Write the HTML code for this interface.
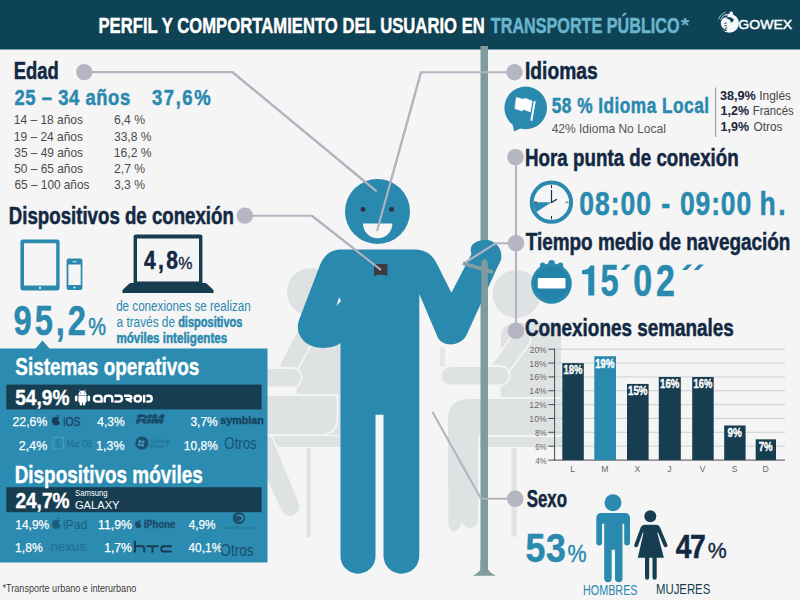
<!DOCTYPE html>
<html lang="es">
<head>
<meta charset="utf-8">
<title>Perfil y comportamiento del usuario en transporte público</title>
<style>
html,body{margin:0;padding:0;background:#f5f5f5;}
body{width:800px;height:600px;overflow:hidden;font-family:"Liberation Sans",sans-serif;}
svg{display:block;}
text{font-family:"Liberation Sans",sans-serif;}
.b{font-weight:bold;}
.navy{fill:#132842;}
.teal{fill:#2a89ae;}
.w{fill:#ffffff;}
.g{fill:#4a4a4a;}
.b.navy{stroke:#132842;stroke-width:0.5px;}
.b.teal{stroke:#2a89ae;stroke-width:0.5px;}
.b.w{stroke:#ffffff;stroke-width:0.4px;}
</style>
</head>
<body>
<svg width="800" height="600" viewBox="0 0 800 600">
<rect x="0" y="0" width="800" height="600" fill="#f5f5f5"/>

<!-- ===== background seated figures ===== -->
<g id="bgfigs" fill="#dfe2e3" stroke="#f3f4f4" stroke-width="1.800" stroke-linejoin="round">
  <!-- left figure -->
  <rect x="306.300" y="448" width="4.500" height="89" fill="#e1e2e2" stroke="none"/>
  <circle cx="311" cy="292" r="24" stroke="none"/>
  <path d="M296,436 L296,336 Q296,322 310,322 L345,322 L345,436 Z"/>
  <path d="M262,436 L345,436 L345,447 L262,447 Z" stroke="none"/>
  <path d="M262,395 L337.500,395 L337.500,417 Q337.500,435 319.500,435 L262,435 Z"/>
  <path d="M262,436 L272,436 L299.500,503 A10,10 0 0 1 280.500,510 L262,470 Z"/>
  <path d="M296.500,332 A9.500,9.500 0 0 1 313.500,340 L297.500,370.500 A9.500,9.500 0 0 1 280.500,362 Z"/>
  <path d="M262,368 L292,368 A9.700,9.700 0 0 1 292,387.400 L262,387.400 Z"/>
  <!-- right figure -->
  <rect x="511.500" y="448" width="5.200" height="88.500" fill="#e1e2e2" stroke="none"/>
  <circle cx="516.500" cy="294" r="24" stroke="none"/>
  <path d="M500,436 L500,338 Q500,322 516,322 L562,322 L562,436 Z"/>
  <path d="M476,436 L562,436 L562,447 L476,447 Z" stroke="none"/>
  <path d="M447,420 Q447,398 469,398 L562,398 L562,436 L479,436 L479,520 A9,9 0 0 1 461.500,523 A7,9 0 0 1 447.500,523 Z"/>
  <path d="M513.500,334 A9.500,9.500 0 0 1 530,343 L506,376 A9.500,9.500 0 0 1 489.500,367 Z"/>
  <path d="M450.500,366 L500,366 A9.700,9.700 0 0 1 500,385.400 L450.500,385.400 A9.700,9.700 0 0 1 450.500,366 Z"/>
  <rect x="440" y="347" width="5" height="20" rx="1" fill="#e6e8e8" stroke="none"/>
</g>

<!-- ===== header ===== -->
<rect x="0" y="0" width="800" height="49.500" fill="#0e4356"/>

<!-- ===== pole ===== -->
<g id="pole">
  <rect x="480.500" y="46" width="7.500" height="524" fill="#7f9b9e"/>
  <path d="M480.500,560 L488,560 L488,569.300 Q490,573 495.800,575.700 L472.800,575.700 Q478.500,573 480.500,569.300 Z" fill="#7f9b9e"/>
</g>

<!-- ===== connectors ===== -->
<g id="connectors" fill="none" stroke="#b5b3c1" stroke-width="2.100">
  <path d="M84.500,72.100 L232.400,72.100 L376.600,191.400"/>
  <path d="M514,72.300 L421,72.300 L377,231"/>
  <path d="M244,215.800 L312,215.800 L381,270"/>
  <path d="M516,157 L516,331"/>
  <path d="M516,243.200 L496,243.200 L466,262"/>
  <path d="M515,498.800 L481,498.800 L432.500,412"/>
</g>

<!-- ===== main figure ===== -->
<g id="person" fill="#2a89ae">
  <circle cx="377.500" cy="211.500" r="32.500"/>
  <path d="M341,249.500 L414,249.500 C427,249.500 433,256 437,264 L451.400,292.800 L471.500,254 C468,245 476,239.500 487,240 C497,241 503,250 501,260 L497.500,267 L467,334 C462,346 444,348 438,338 L419.300,294 L419.300,555.800 A17.900,17.900 0 0 1 383.500,555.800 L383.500,414.700 L375.500,414.700 L375.500,556.200 A17.500,17.500 0 0 1 340.500,556.200 L340.500,343 C334,349 312,351 303,340 C297,333 297,326 299,320 L320,265 C324,255 331,249.500 341,249.500 Z"/>
</g>
<path d="M339,297 L336.500,306 L341,301 Z" fill="#f5f5f5"/>
<!-- face -->
<circle cx="363" cy="209.400" r="2.400" fill="#2d3138"/>
<circle cx="391.600" cy="209.400" r="2.400" fill="#2d3138"/>
<path d="M363,223.600 L392.400,223.600 A14.700,14.700 0 0 1 363,223.600 Z" fill="#f5f5f5"/>
<!-- neck device -->
<path d="M374,264 L387.400,264 L387.400,276 Q380.700,273 374,276 Z" fill="#3b3a40"/>
<!-- wrist band -->
<path d="M463.500,261.500 L493.500,270.500 L492.500,274 L462.500,265 Z" fill="#8a9ea2"/>
<path d="M481.300,346 L481.300,262 L484.500,258.500 L487.800,262 L487.800,346 Z" fill="#7f9b9e"/>

<!-- connectors over figure -->
<g fill="none" stroke="#b5b3c1" stroke-width="2.100">
  <path d="M232.400,72.100 L376.600,191.400"/>
  <path d="M421,72.300 L377,231"/>
  <path d="M312,215.800 L381,270"/>
  <path d="M496,243.200 L466,262"/>
</g>
<g id="dots" fill="#b6b5c2">
  <circle cx="84.300" cy="72.100" r="8.200"/>
  <circle cx="244.800" cy="215.600" r="8.200"/>
  <circle cx="514.500" cy="72.200" r="8.200"/>
  <circle cx="515.500" cy="157.200" r="8.300"/>
  <circle cx="516" cy="243.200" r="8.300"/>
  <circle cx="516" cy="330.800" r="8.300"/>
  <circle cx="515.200" cy="498.800" r="8.300"/>
</g>

<!-- ===== header text ===== -->
<g font-weight="bold" font-size="22.500">
  <text x="99.47" y="34.00" font-size="22.5" textLength="386.66" lengthAdjust="spacingAndGlyphs" fill="#0a2c3a" font-weight="bold">PERFIL Y COMPORTAMIENTO DEL USUARIO EN</text>
  <text x="98.41" y="33.00" font-size="22.5" textLength="386.45" lengthAdjust="spacingAndGlyphs" fill="#ffffff" stroke="#ffffff" stroke-width="0.500" font-weight="bold">PERFIL Y COMPORTAMIENTO DEL USUARIO EN</text>
  <text x="490.84" y="33.00" font-size="22.5" textLength="188.72" lengthAdjust="spacingAndGlyphs" fill="#6bb4cd" stroke="#6bb4cd" stroke-width="0.500" font-weight="bold">TRANSPORTE PÚBLICO</text>
  <text x="680.88" y="32.00" font-size="21" textLength="8.51" lengthAdjust="spacingAndGlyphs" fill="#6bb4cd" font-weight="bold">*</text>
</g>
<!-- gowex logo -->
<g id="gowex">
  <circle cx="729.400" cy="23.200" r="9.500" fill="#f4f8fa"/>
  <path d="M731.200,13.200 L732,18.500" stroke="#f4f8fa" stroke-width="3.400" stroke-linecap="round" fill="none"/>
  <path d="M727.500,16.200 A7,7 0 0 0 726.500,30.400" stroke="#0e4356" stroke-width="1.700" fill="none"/>
  <path d="M725.800,18 Q729,15.300 733.800,19.200 Q733.300,22.300 730.800,22.600 Q731.400,19.800 725.800,18 Z" fill="#0e4356"/>
  <path d="M724.300,23.400 L726.800,23 M724.300,25.800 L726.800,25.500 M725,28.200 L727.300,27.800" stroke="#0e4356" stroke-width="0.900" fill="none"/>
  <path d="M718.600,19.500 Q720,14.200 725.600,12.200 M720.600,20 Q721.800,15.800 726.300,14" fill="none" stroke="#a9cbd7" stroke-width="0.900"/>
  <text x="738.34" y="28.70" font-size="12.5" textLength="53.76" lengthAdjust="spacingAndGlyphs" fill="#ffffff" stroke="#ffffff" stroke-width="0.450">GOWEX</text>
</g>

<!-- ===== Edad ===== -->
<text x="13.74" y="79.40" font-size="23" textLength="44.96" lengthAdjust="spacingAndGlyphs" class="b navy">Edad</text>
<text transform="translate(14.42 105.30) scale(0.82 1)" font-size="22.5" textLength="141.17" lengthAdjust="spacing" class="b teal">25 – 34 años</text>
<text transform="translate(152.01 105.30) scale(0.82 1)" font-size="22.5" textLength="71.42" lengthAdjust="spacing" class="b teal">37,6%</text>
<g class="g" font-size="13.500">
  <text x="13.82" y="124.40" font-size="13.5" textLength="69.20" lengthAdjust="spacingAndGlyphs" class="g">14 – 18 años</text>
  <text x="13.82" y="140.60" font-size="13.5" textLength="69.20" lengthAdjust="spacingAndGlyphs" class="g">19 – 24 años</text>
  <text x="14.33" y="156.70" font-size="13.5" textLength="68.59" lengthAdjust="spacingAndGlyphs" class="g">35 – 49 años</text>
  <text x="14.26" y="172.60" font-size="13.5" textLength="68.71" lengthAdjust="spacingAndGlyphs" class="g">50 – 65 años</text>
  <text x="14.55" y="188.60" font-size="13.5" textLength="74.85" lengthAdjust="spacingAndGlyphs" class="g">65 – 100 años</text>
  <text x="113.92" y="124.40" font-size="13.5" textLength="31.23" lengthAdjust="spacingAndGlyphs" class="g">6,4 %</text>
  <text x="113.97" y="140.60" font-size="13.5" textLength="37.52" lengthAdjust="spacingAndGlyphs" class="g">33,8 %</text>
  <text x="113.78" y="156.70" font-size="13.5" textLength="37.76" lengthAdjust="spacingAndGlyphs" class="g">16,2 %</text>
  <text x="113.99" y="172.60" font-size="13.5" textLength="31.16" lengthAdjust="spacingAndGlyphs" class="g">2,7 %</text>
  <text x="113.88" y="188.60" font-size="13.5" textLength="31.16" lengthAdjust="spacingAndGlyphs" class="g">3,3 %</text>
</g>

<!-- ===== Dispositivos de conexion ===== -->
<text x="8.80" y="223.70" font-size="23" textLength="225.06" lengthAdjust="spacingAndGlyphs" class="b navy">Dispositivos de conexión</text>
<!-- tablet -->
<path fill="#2a89ae" fill-rule="evenodd" d="M23,239.600 L57,239.600 Q59.600,239.600 59.600,242.200 L59.600,287.800 Q59.600,290.400 57,290.400 L23,290.400 Q20.400,290.400 20.400,287.800 L20.400,242.200 Q20.400,239.600 23,239.600 Z M24,243.200 L24,285.400 L56.200,285.400 L56.200,243.200 Z"/>
<circle cx="40" cy="287.900" r="1.100" fill="#f5f5f5"/>
<!-- phone -->
<path fill="#2a89ae" fill-rule="evenodd" d="M68.600,258.600 L80.400,258.600 Q82.400,258.600 82.400,260.600 L82.400,288 Q82.400,290 80.400,290 L68.600,290 Q66.600,290 66.600,288 L66.600,260.600 Q66.600,258.600 68.600,258.600 Z M68.400,264.400 L68.400,285 L80.700,285 L80.700,264.400 Z"/>
<circle cx="74.500" cy="287.600" r="1" fill="#f5f5f5"/>
<rect x="72.500" y="261.300" width="4" height="0.900" fill="#f5f5f5"/>
<!-- laptop -->
<path fill="#173d50" fill-rule="evenodd" d="M135.600,234.600 L200.400,234.600 Q202.400,234.600 202.400,236.600 L202.400,283 L206,283 L213.500,290 L213.500,293 L122.500,293 L122.500,290 L130,283 L133.600,283 L133.600,236.600 Q133.600,234.600 135.600,234.600 Z M137,238.600 L137,281.600 L199,281.600 L199,238.600 Z"/>
<text transform="translate(143.97 268.60) scale(0.8 1)" font-size="26.3" textLength="42.39" lengthAdjust="spacing" class="b navy">4,8</text>
<text x="178.35" y="268.60" font-size="16.5" textLength="14.23" lengthAdjust="spacingAndGlyphs" class="navy" stroke="#132842" stroke-width="0.350">%</text>
<!-- 95,2 -->
<text transform="translate(13.53 335.25) scale(0.76 1)" font-size="43" textLength="95.38" lengthAdjust="spacing" class="b teal" stroke-width="0.800">95,2</text>
<text x="88.22" y="335.20" font-size="23" textLength="17.76" lengthAdjust="spacingAndGlyphs" class="teal" stroke="#2a89ae" stroke-width="0.500">%</text>
<g class="teal" font-size="14">
  <text x="116.15" y="311.00" font-size="14" textLength="134.62" lengthAdjust="spacingAndGlyphs" class="teal">de conexiones se realizan</text>
  <text x="116.55" y="327.00" font-size="14" textLength="58.41" lengthAdjust="spacingAndGlyphs" class="teal">a través de</text>
  <text x="178.14" y="327.00" font-size="14" textLength="64.27" lengthAdjust="spacingAndGlyphs" class="teal b" stroke-width="0.100">dispositivos</text>
  <text x="116.38" y="342.60" font-size="14" textLength="110.81" lengthAdjust="spacingAndGlyphs" class="teal b" stroke-width="0.100">móviles inteligentes</text>
</g>

<!-- ===== blue box ===== -->
<path d="M0,348.500 L35.500,348.500 L42.500,340.600 L49.500,348.500 L267.500,348.500 L267.500,562.500 L0,562.500 Z" fill="#2b8bb0"/>
<rect x="6.300" y="384.600" width="255.300" height="24.800" fill="#173d50"/>
<rect x="6.300" y="487.200" width="255.300" height="25" fill="#173d50"/>
<text x="15.28" y="374.60" font-size="23" textLength="184.11" lengthAdjust="spacingAndGlyphs" class="b w">Sistemas operativos</text>
<text x="14.65" y="482.60" font-size="23" textLength="188.18" lengthAdjust="spacingAndGlyphs" class="b w">Dispositivos móviles</text>
<text x="15.23" y="404.60" font-size="21.5" textLength="54.18" lengthAdjust="spacingAndGlyphs" class="b w">54,9%</text>
<text x="15.42" y="508.20" font-size="21.5" textLength="54.05" lengthAdjust="spacingAndGlyphs" class="b w">24,7%</text>
<defs>
  <g id="apple">
    <path d="M5,3.200 C6,2.600 7.200,2.600 8.200,3.300 C7.200,4 6.800,5 6.900,6 C7,7.200 7.700,8 8.700,8.400 C8.200,10 7.200,11.600 6.200,11.600 C5.600,11.600 5.400,11.200 4.700,11.200 C4,11.200 3.700,11.600 3.100,11.600 C2,11.600 0.600,9 0.600,6.600 C0.600,4.400 2,3 3.300,3 C4,3 4.500,3.400 5,3.200 Z"/>
    <path d="M5,2.600 C5,1.400 5.900,0.400 7,0.300 C7.100,1.500 6.200,2.600 5,2.600 Z"/>
  </g>
</defs>
<!-- android robot -->
<g fill="#ffffff">
  <path d="M78.400,394.900 A4.100,4.400 0 0 1 86.600,394.900 Z"/>
  <path d="M78.400,395.600 L86.600,395.600 L86.600,401.400 Q86.600,402.500 85.500,402.500 L79.500,402.500 Q78.400,402.500 78.400,401.400 Z"/>
  <rect x="74.900" y="395.400" width="2.600" height="6" rx="1.300"/>
  <rect x="87.500" y="395.400" width="2.600" height="6" rx="1.300"/>
  <rect x="79.700" y="401" width="2.400" height="4.500" rx="1.200"/>
  <rect x="82.900" y="401" width="2.400" height="4.500" rx="1.200"/>
  <path d="M79.200,389.600 L80.600,391.600 M85.800,389.600 L84.400,391.600" stroke="#ffffff" stroke-width="0.600" fill="none"/>
</g>
<circle cx="80.700" cy="392.900" r="0.500" fill="#173d50"/>
<circle cx="84.300" cy="392.900" r="0.500" fill="#173d50"/>
<!-- android wordmark -->
<g fill="none" stroke="#ffffff" stroke-width="2.400" stroke-linejoin="round">
  <path d="M101.600,401.600 L101.600,398.600 Q101.600,395.800 98.600,395.800 L97,395.800 Q94,395.800 94,398.700 Q94,401.600 97,401.600 Z"/>
  <path d="M104.700,402.600 L104.700,398.800 Q104.700,395.800 107.700,395.800 L109.300,395.800 Q112.300,395.800 112.300,398.800 L112.300,402.600"/>
  <path d="M114.400,395.800 L119,395.800 Q121.900,395.800 121.900,398.700 Q121.900,401.600 119,401.600 L114.400,401.600"/>
  <path d="M124,395.800 L128.800,395.800 Q131.400,395.800 131.400,397.500 Q131.400,399.200 128.800,399.200 L126.500,399.200 L131.800,401.800"/>
  <rect x="134.600" y="395.800" width="6.400" height="5.800" rx="2.900"/>
  <path d="M144.100,394.800 L144.100,402.600"/>
  <path d="M146.300,395.800 L148.900,395.800 Q151.700,395.800 151.700,398.700 Q151.700,401.600 148.900,401.600 L146.300,401.600"/>
</g>
<!-- rows sistemas operativos -->
<g class="w" font-size="13.200">
  <text x="12.52" y="425.90" font-size="13.2" textLength="34.80" lengthAdjust="spacingAndGlyphs" class="w" stroke="#ffffff" stroke-width="0.250">22,6%</text>
  <text x="97.27" y="425.90" font-size="13.2" textLength="27.43" lengthAdjust="spacingAndGlyphs" class="w" stroke="#ffffff" stroke-width="0.250">4,3%</text>
  <text x="190.42" y="425.90" font-size="13.2" textLength="27.38" lengthAdjust="spacingAndGlyphs" class="w" stroke="#ffffff" stroke-width="0.250">3,7%</text>
  <text x="18.86" y="449.50" font-size="13.2" textLength="28.38" lengthAdjust="spacingAndGlyphs" class="w" stroke="#ffffff" stroke-width="0.250">2,4%</text>
  <text x="96.12" y="449.50" font-size="13.2" textLength="28.46" lengthAdjust="spacingAndGlyphs" class="w" stroke="#ffffff" stroke-width="0.250">1,3%</text>
  <text x="183.87" y="449.50" font-size="13.2" textLength="33.93" lengthAdjust="spacingAndGlyphs" class="w" stroke="#ffffff" stroke-width="0.250">10,8%</text>
  <text x="15.24" y="528.80" font-size="13.2" textLength="34.08" lengthAdjust="spacingAndGlyphs" class="w" stroke="#ffffff" stroke-width="0.250">14,9%</text>
  <text x="98.07" y="528.80" font-size="13.2" textLength="33.86" lengthAdjust="spacingAndGlyphs" class="w" stroke="#ffffff" stroke-width="0.250">11,9%</text>
  <text x="188.68" y="528.80" font-size="13.2" textLength="26.87" lengthAdjust="spacingAndGlyphs" class="w" stroke="#ffffff" stroke-width="0.250">4,9%</text>
  <text x="15.12" y="552.40" font-size="13.2" textLength="27.55" lengthAdjust="spacingAndGlyphs" class="w" stroke="#ffffff" stroke-width="0.250">1,8%</text>
  <text x="104.18" y="552.40" font-size="13.2" textLength="27.70" lengthAdjust="spacingAndGlyphs" class="w" stroke="#ffffff" stroke-width="0.250">1,7%</text>
  <text x="188.47" y="552.40" font-size="13.2" textLength="33.78" lengthAdjust="spacingAndGlyphs" class="w" stroke="#ffffff" stroke-width="0.250">40,1%</text>
</g>
<use href="#apple" transform="translate(51.300,414.200) scale(1.020,0.960)" fill="#1b3d59"/>
<text x="63.27" y="425.90" font-size="13" textLength="17.21" lengthAdjust="spacingAndGlyphs" fill="#1b3f5c" stroke="#1b3f5c" stroke-width="0.250">iOS</text>
<text x="136.23" y="422.60" font-size="10.5" textLength="27.36" lengthAdjust="spacingAndGlyphs" fill="#1a4a66" stroke="#1a4a66" stroke-width="0.900" font-weight="bold" font-style="italic">RIM</text>
<path d="M134,418.600 L166,418.600" stroke="#2b8bb0" stroke-width="0.600"/>
<text x="220.22" y="423.60" font-size="10.5" textLength="43.71" lengthAdjust="spacingAndGlyphs" fill="#17405e" stroke="#17405e" stroke-width="0.300" font-weight="bold">symbian</text>
<!-- mac os -->
<g fill="none" stroke="#5fa9c6" stroke-width="0.600">
  <rect x="52.800" y="437.700" width="10.800" height="11.200"/>
  <path d="M58.800,437.700 Q56.500,441 57.200,444 L58.800,444 Q58.500,447 59.200,448.900" stroke="#1f6788"/>
</g>
<text x="66.69" y="447.30" font-size="9.5" textLength="25.18" lengthAdjust="spacingAndGlyphs" fill="#1f6788" font-family="'Liberation Serif',serif" style="font-family:'Liberation Serif',serif">Mac OS</text>
<!-- windows phone -->
<circle cx="141.900" cy="443" r="6.600" fill="#1b4f6e"/>
<g fill="#4a9cbd">
  <path d="M138.700,440.300 Q140,439.500 141.300,440.200 L140.800,442.700 Q139.500,442.100 138.200,442.800 Z"/>
  <path d="M142,440.500 Q143.300,441.200 144.700,440.500 L144.200,443 Q142.800,443.700 141.500,443 Z"/>
  <path d="M138.100,443.500 Q139.400,442.800 140.700,443.500 L140.200,446 Q138.900,445.300 137.600,446 Z"/>
  <path d="M141.400,443.800 Q142.700,444.500 144.100,443.800 L143.600,446.200 Q142.200,446.900 140.900,446.200 Z"/>
</g>
<text x="150.82" y="443.00" font-size="5" textLength="19.56" lengthAdjust="spacingAndGlyphs" fill="#1f6788">Windows</text>
<text x="150.10" y="448.20" font-size="5" textLength="18.24" lengthAdjust="spacingAndGlyphs" fill="#1f6788">Phone 7</text>
<text x="224.36" y="449.40" font-size="16.2" textLength="32.37" lengthAdjust="spacingAndGlyphs" fill="#1a5373">Otros</text>
<!-- samsung galaxy -->
<text x="75.08" y="496.40" font-size="8.3" textLength="32.51" lengthAdjust="spacingAndGlyphs" class="w">Samsung</text>
<text x="74.94" y="509.20" font-size="11" textLength="44.62" lengthAdjust="spacingAndGlyphs" class="w">GALAXY</text>
<!-- ipad / iphone -->
<use href="#apple" transform="translate(51.500,516.800) scale(1.050,1.040)" fill="#1d5b7c"/>
<text x="62.92" y="528.80" font-size="13.5" textLength="24.46" lengthAdjust="spacingAndGlyphs" fill="#1d5f80">iPad</text>
<use href="#apple" transform="translate(134.500,518.900) scale(0.800,0.780)" fill="#1b4a68"/>
<text x="143.63" y="527.90" font-size="11.5" textLength="31.67" lengthAdjust="spacingAndGlyphs" fill="#1b4a68" font-weight="bold" stroke="#1b4a68" stroke-width="0.300">iPhone</text>
<!-- sony ericsson -->
<circle cx="238.900" cy="518.100" r="6.200" fill="#1c4f6c"/>
<path d="M235.500,517 Q238,513.500 242,515 Q244.500,517 243,520 Q240.500,522.500 237.500,521 Q241,521 241.800,518.500 Q242,516.300 239.500,516 Q237,516 235.500,517 Z" fill="#3a93b6"/>
<text x="223.66" y="529.30" font-size="4.4" textLength="30.39" lengthAdjust="spacingAndGlyphs" fill="#1f6788">Sony Ericsson</text>
<!-- nexus -->
<text x="50.42" y="551.40" font-size="12.5" textLength="35.37" lengthAdjust="spacingAndGlyphs" fill="#1f6b8e">nexus</text>
<!-- htc -->
<g fill="none" stroke="#173d50" stroke-width="2.100">
  <path d="M134.900,540.700 L134.900,552.400 M134.900,546.300 L142,546.300 Q144.200,546.300 144.200,548.500 L144.200,552.400"/>
  <path d="M146.500,546.300 L158.700,546.300 M152.600,546.300 L152.600,552.400"/>
  <path d="M171.700,546.300 L163.600,546.300 Q161.400,546.300 161.400,548.500 L161.400,549.300 Q161.400,551.500 163.600,551.500 L171.700,551.500"/>
</g>
<text x="220.37" y="555.50" font-size="17" textLength="33.17" lengthAdjust="spacingAndGlyphs" fill="#194c6a">Otros</text>
<!-- footnote -->
<text x="2.59" y="591.60" font-size="10" textLength="133.63" lengthAdjust="spacingAndGlyphs" fill="#3d3d3d">*Transporte urbano e interurbano</text>
<!-- ===== Idiomas ===== -->
<text x="525.00" y="79.20" font-size="23" textLength="72.61" lengthAdjust="spacingAndGlyphs" class="b navy">Idiomas</text>
<circle cx="525.700" cy="107.900" r="21.300" fill="#2a89ae"/>
<path d="M512.300,123 L514.200,131.400 L521.800,127.800 Z" fill="#2a89ae"/>
<path d="M533.800,101 L535.700,101.300 L532.300,120.900 L530.400,120.600 Z" fill="#ffffff"/>
<path d="M516.300,97.400 L522.900,99.300 L525.200,98.300 L532.200,101.100 L530.300,111.900 L523.800,109.500 L521.900,110.900 L514.900,108.600 Z" fill="#ffffff" stroke="#ffffff" stroke-width="0.600" stroke-linejoin="round"/>
<text transform="translate(551.71 113.20) scale(0.775 1)" font-size="22.3" textLength="203.03" lengthAdjust="spacing" class="b teal" stroke-width="0.200">58 % Idioma Local</text>
<text x="551.65" y="132.50" font-size="13.5" textLength="114.23" lengthAdjust="spacingAndGlyphs" fill="#555555">42% Idioma No Local</text>
<rect x="715" y="87.500" width="1.100" height="49.400" fill="#9a9c9f"/>
<g font-size="13.500">
  <text x="719.94" y="99.75" font-size="13" textLength="35.93" lengthAdjust="spacingAndGlyphs" fill="#17243a" font-weight="bold">38,9%</text>
  <text x="759.23" y="99.75" font-size="13.2" textLength="31.84" lengthAdjust="spacingAndGlyphs" fill="#42474c">Inglés</text>
  <text x="720.50" y="114.90" font-size="13" textLength="28.55" lengthAdjust="spacingAndGlyphs" fill="#17243a" font-weight="bold">1,2%</text>
  <text x="752.79" y="114.90" font-size="13.2" textLength="40.84" lengthAdjust="spacingAndGlyphs" fill="#42474c">Francés</text>
  <text x="720.50" y="131.25" font-size="13" textLength="28.55" lengthAdjust="spacingAndGlyphs" fill="#17243a" font-weight="bold">1,9%</text>
  <text x="753.57" y="131.25" font-size="13.2" textLength="28.89" lengthAdjust="spacingAndGlyphs" fill="#42474c">Otros</text>
</g>

<!-- ===== Hora punta ===== -->
<text x="525.06" y="166.00" font-size="23" textLength="213.71" lengthAdjust="spacingAndGlyphs" class="b navy">Hora punta de conexión</text>
<circle cx="551.400" cy="202.200" r="19.650" fill="none" stroke="#2a89ae" stroke-width="4"/>
<path d="M551.400,202.200 L533.500,202.200 A17.900,17.900 0 0 0 536.500,212.100 Z" fill="#2a89ae"/>
<g stroke="#16304a" fill="none">
  <path d="M551.500,203 L551.500,190" stroke-width="1.200"/>
  <path d="M551,202.600 L557,199.200" stroke-width="1.300"/>
  <path d="M551.500,185 L551.500,188.200 M551.500,216 L551.500,219.200 M534,202.200 L537,202.200" stroke-width="1"/>
  <path d="M565.500,202.200 L568.500,202.200" stroke-width="1" stroke="#7a3a3a"/>
</g>
<g class="b teal" font-size="31">
  <text transform="translate(579.26 214.50) scale(0.78 1)" font-size="34" textLength="91.88" lengthAdjust="spacing" class="b teal">08:00</text>
  <text x="661.34" y="214.50" font-size="34" textLength="8.97" lengthAdjust="spacingAndGlyphs" class="b teal">-</text>
  <text transform="translate(679.97 214.50) scale(0.78 1)" font-size="34" textLength="91.30" lengthAdjust="spacing" class="b teal">09:00</text>
  <text transform="translate(759.56 214.50) scale(0.78 1)" font-size="34" textLength="33.54" lengthAdjust="spacing" class="b teal">h.</text>
</g>

<!-- ===== Tiempo medio ===== -->
<text x="525.70" y="250.00" font-size="23" textLength="264.74" lengthAdjust="spacingAndGlyphs" class="b navy">Tiempo medio de navegación</text>
<circle cx="551.500" cy="263.300" r="3.300" fill="#2a89ae"/>
<circle cx="542.700" cy="265.300" r="2.700" fill="#2a89ae"/>
<circle cx="560.500" cy="265.300" r="2.700" fill="#2a89ae"/>
<circle cx="551.500" cy="283.500" r="20.300" fill="#2a89ae"/>
<circle cx="551.500" cy="283.500" r="17" fill="#2483aa"/>
<rect x="537.800" y="278" width="27.700" height="10.500" rx="1.200" fill="#ffffff"/>
<g class="b teal" font-size="41">
  <text x="600.40" y="295.60" font-size="43.5" textLength="18.14" lengthAdjust="spacingAndGlyphs" class="b teal">5</text>
  <text transform="translate(633.24 295.60) scale(0.78 1)" font-size="43.5" textLength="53.54" lengthAdjust="spacing" class="b teal">02</text>
</g>
<g fill="#2a89ae">
  <path d="M625.800,264.400 L630.800,264.400 L625.300,270 L620.700,270 Z"/>
  <path d="M687.200,264.400 L692.200,264.400 L686.700,270 L682.100,270 Z"/>
  <path d="M698.800,264.400 L703.800,264.400 L698.300,270 L693.700,270 Z"/>
  <path d="M594.300,265.500 L594.300,295.600 L588.300,295.600 L588.300,274.200 L582,274.200 L582,270.200 Q588.600,270 590.300,265.500 Z"/>
</g>

<!-- ===== Conexiones semanales ===== -->
<text x="524.92" y="335.50" font-size="23.2" textLength="208.84" lengthAdjust="spacingAndGlyphs" class="b navy">Conexiones semanales</text>
<g stroke="#c3c5c7" stroke-width="0.800">
  <path d="M554.6,349.20 H785 M554.6,363.05 H785 M554.6,376.90 H785 M554.6,390.75 H785 M554.6,404.60 H785 M554.6,418.45 H785 M554.6,432.30 H785 M554.6,446.15 H785"/>
</g>
<g stroke="#3a3a3a" stroke-width="0.900" fill="none">
  <path d="M554.600,348.800 V460.500"/>
  <path d="M548.3,349.20 H554.6 M548.3,363.05 H554.6 M548.3,376.90 H554.6 M548.3,390.75 H554.6 M548.3,404.60 H554.6 M548.3,418.45 H554.6 M548.3,432.30 H554.6 M548.3,446.15 H554.6"/>
  <path d="M548.300,460.100 H785"/>
</g>
<g>
  <text x="529.78" y="352.70" font-size="9.3" textLength="16.82" lengthAdjust="spacingAndGlyphs" fill="#676767">20%</text>
  <text x="529.35" y="366.55" font-size="9.3" textLength="17.23" lengthAdjust="spacingAndGlyphs" fill="#676767">18%</text>
  <text x="529.35" y="380.40" font-size="9.3" textLength="17.23" lengthAdjust="spacingAndGlyphs" fill="#676767">16%</text>
  <text x="529.35" y="394.25" font-size="9.3" textLength="17.23" lengthAdjust="spacingAndGlyphs" fill="#676767">14%</text>
  <text x="529.35" y="408.10" font-size="9.3" textLength="17.23" lengthAdjust="spacingAndGlyphs" fill="#676767">12%</text>
  <text x="529.35" y="421.95" font-size="9.3" textLength="17.23" lengthAdjust="spacingAndGlyphs" fill="#676767">10%</text>
  <text x="535.06" y="435.80" font-size="9.3" textLength="11.46" lengthAdjust="spacingAndGlyphs" fill="#676767">8%</text>
  <text x="535.15" y="449.65" font-size="9.3" textLength="11.43" lengthAdjust="spacingAndGlyphs" fill="#676767">6%</text>
  <text x="535.13" y="463.50" font-size="9.3" textLength="11.53" lengthAdjust="spacingAndGlyphs" fill="#676767">4%</text>
</g>
<g fill="#173d50">
  <rect x="562.30" y="363.15" width="21.50" height="96.95"/>
  <rect x="594.30" y="356.23" width="21.70" height="103.88" fill="#2a89ae"/>
  <rect x="627.00" y="383.93" width="21.60" height="76.18"/>
  <rect x="658.80" y="377.00" width="22.00" height="83.10"/>
  <rect x="692.20" y="377.00" width="21.50" height="83.10"/>
  <rect x="724.20" y="425.48" width="21.40" height="34.62"/>
  <rect x="755.70" y="439.33" width="20.30" height="20.77"/>
</g>
<g>
  <text x="563.42" y="374.45" font-size="12.5" textLength="18.87" lengthAdjust="spacingAndGlyphs" class="b w" stroke-width="0.150">18%</text>
  <text x="595.32" y="367.53" font-size="12.5" textLength="19.05" lengthAdjust="spacingAndGlyphs" class="b w" stroke-width="0.150">19%</text>
  <text x="628.01" y="395.23" font-size="12.5" textLength="19.40" lengthAdjust="spacingAndGlyphs" class="b w" stroke-width="0.150">15%</text>
  <text x="660.01" y="388.30" font-size="12.5" textLength="19.40" lengthAdjust="spacingAndGlyphs" class="b w" stroke-width="0.150">16%</text>
  <text x="693.47" y="388.30" font-size="12.5" textLength="18.79" lengthAdjust="spacingAndGlyphs" class="b w" stroke-width="0.150">16%</text>
  <text x="727.57" y="436.78" font-size="12.5" textLength="14.23" lengthAdjust="spacingAndGlyphs" class="b w" stroke-width="0.150">9%</text>
  <text x="758.73" y="450.63" font-size="12.5" textLength="13.90" lengthAdjust="spacingAndGlyphs" class="b w" stroke-width="0.150">7%</text>
</g>
<g>
  <text x="572.60" y="471.80" font-size="8.6" fill="#666666" text-anchor="middle">L</text>
  <text x="604.80" y="471.80" font-size="8.6" fill="#666666" text-anchor="middle">M</text>
  <text x="637.40" y="471.80" font-size="8.6" fill="#666666" text-anchor="middle">X</text>
  <text x="669.40" y="471.80" font-size="8.6" fill="#666666" text-anchor="middle">J</text>
  <text x="702.60" y="471.80" font-size="8.6" fill="#666666" text-anchor="middle">V</text>
  <text x="734.50" y="471.80" font-size="8.6" fill="#666666" text-anchor="middle">S</text>
  <text x="765.50" y="471.80" font-size="8.6" fill="#666666" text-anchor="middle">D</text>
</g>

<!-- ===== Sexo ===== -->
<text x="526.67" y="507.00" font-size="23" textLength="40.29" lengthAdjust="spacingAndGlyphs" class="b navy">Sexo</text>
<text transform="translate(525.58 562.30) scale(0.86 1)" font-size="41.5" textLength="46.80" lengthAdjust="spacing" class="b teal">53</text>
<text x="567.50" y="562.30" font-size="24" textLength="19.05" lengthAdjust="spacingAndGlyphs" class="teal" stroke="#2a89ae" stroke-width="0.400">%</text>
<!-- man -->
<g fill="#2a89ae">
  <circle cx="613" cy="502.700" r="8.500"/>
  <path d="M601.500,513 L624.800,513 Q630,513 630,518.200 L630,542.600 Q630,545.500 627.100,545.500 Q624.200,545.500 624.200,542.600 L624.200,523.800 L622.500,523.800 L622.500,578.600 Q622.500,582.200 618.800,582.200 Q615,582.200 615,578.600 L615,549.700 L611.700,549.700 L611.700,578.600 Q611.700,582.200 608,582.200 Q604.200,582.200 604.200,578.600 L604.200,523.800 L602,523.800 L602,542.600 Q602,545.500 599.100,545.500 Q596.300,545.500 596.300,542.600 L596.300,518.200 Q596.300,513 601.500,513 Z"/>
</g>
<!-- woman -->
<g fill="#173d50">
  <circle cx="650.300" cy="516.300" r="6"/>
  <path d="M644.500,524.700 L656.300,524.700 Q659,524.700 660,527.300 L667.300,544.500 Q668,546.500 666.300,547.200 Q664.600,547.800 663.700,546 L658,532.500 L657.300,532.700 L663.900,557.700 L656.700,557.700 L656.700,577.500 Q656.700,579.700 654.600,579.700 Q652.500,579.700 652.500,577.500 L652.500,557.700 L649.200,557.700 L649.200,577.500 Q649.200,579.700 647.100,579.700 Q645,579.700 645,577.500 L645,557.700 L637.800,557.700 L643.500,532.700 L642.800,532.500 L638,546 Q637.100,547.800 635.400,547.200 Q633.700,546.500 634.400,544.500 L640.800,527.300 Q641.800,524.700 644.500,524.700 Z"/>
</g>
<text transform="translate(675.76 557.80) scale(0.859 1)" font-size="33" textLength="34.92" lengthAdjust="spacing" class="b navy">47</text>
<text x="707.73" y="557.80" font-size="22" textLength="18.95" lengthAdjust="spacingAndGlyphs" class="navy" stroke="#132842" stroke-width="0.400">%</text>
<text x="582.95" y="595.00" font-size="14" textLength="54.63" lengthAdjust="spacingAndGlyphs" class="teal">HOMBRES</text>
<text x="655.95" y="593.70" font-size="14" textLength="54.36" lengthAdjust="spacingAndGlyphs" fill="#173d50">MUJERES</text>




</svg>
</body>
</html>
